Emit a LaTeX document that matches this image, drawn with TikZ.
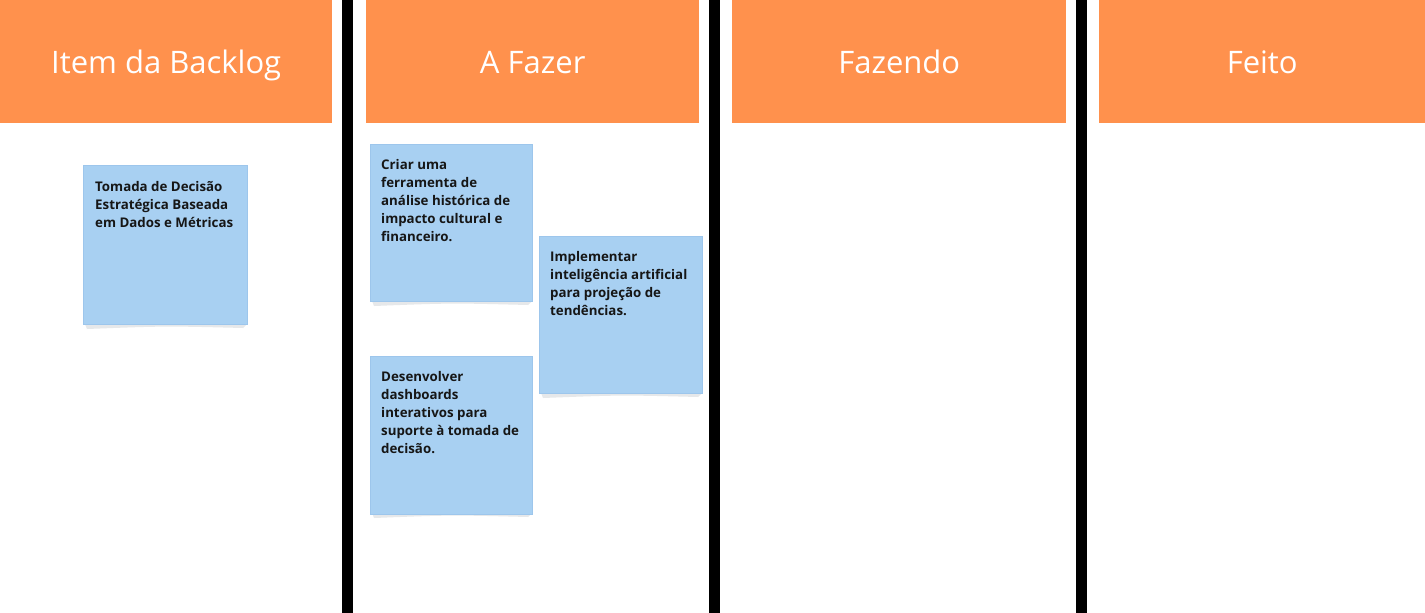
\documentclass[tikz,border=0pt]{standalone}
\usepackage{fontspec}
\setmainfont{Open Sans}
\definecolor{headorange}{HTML}{FF914D}
\definecolor{stickyblue}{HTML}{A8D0F2}
\definecolor{stickyedge}{HTML}{9DC6EC}
\definecolor{stickyshade}{HTML}{E6E8EA}
\definecolor{inktext}{HTML}{161616}
\begin{document}
\begin{tikzpicture}[x=1pt,y=-1pt,
  header/.style={fill=headorange, draw=none, anchor=north west, inner sep=0pt,
    minimum height=123pt},
  headtext/.style={text=white, font=\fontsize{31}{37}\selectfont, anchor=base, inner sep=0pt},
  divider/.style={fill=black, draw=none, anchor=north west, inner sep=0pt,
    minimum width=11pt, minimum height=613pt},
  sticky/.style={fill=stickyblue, draw=stickyedge, line width=0.6pt,
    anchor=north west, inner sep=0pt},
  % multi-line text: the base anchor sits on the last line
  stickytext/.style={anchor=base west, inner sep=0pt, align=left, text=inktext,
    font=\fontsize{13.3}{18}\selectfont\bfseries}
]
\useasboundingbox (0,0) rectangle (1425,613);
\fill[white] (0,0) rectangle (1425,613);

% column headers
\node[header, minimum width=332pt] (h1) at (0,0) {};
\node[header, minimum width=333pt] (h2) at (366,0) {};
\node[header, minimum width=334pt] (h3) at (732,0) {};
\node[header, minimum width=326pt] (h4) at (1099,0) {};
\node[headtext] (t1) at ([yshift=-73pt]h1.north) {Item da Backlog};
\node[headtext] (t2) at ([yshift=-73pt]h2.north) {A Fazer};
\node[headtext] (t3) at ([yshift=-73pt]h3.north) {Fazendo};
\node[headtext] (t4) at ([yshift=-73pt]h4.north) {Feito};

% column dividers
\node[divider] (d1) at (342,0) {};
\node[divider] (d2) at (709,0) {};
\node[divider] (d3) at (1076,0) {};

% sticky note shadows
\newcommand{\stickyshadow}[3]{% left, right, bottom
  \fill[stickyshade] (#1+2,#3) -- (#2,#3) -- (#2-4,#3+4)
    .. controls ({(#1+#2)/2},#3+2) .. (#1+4,#3+5) -- cycle;}
\stickyshadow{83}{247}{324}
\stickyshadow{370}{532}{301}
\stickyshadow{539}{702}{393}
\stickyshadow{370}{532}{513}

% sticky notes
\node[sticky, minimum width=164pt, minimum height=159pt] (n1) at (83,165) {};
\node[sticky, minimum width=162pt, minimum height=157pt] (n2) at (370,144) {};
\node[sticky, minimum width=163pt, minimum height=157pt] (n3) at (539,236) {};
\node[sticky, minimum width=162pt, minimum height=158pt] (n4) at (370,356) {};

\node[stickytext] (n1t) at ([shift={(12pt,-62pt)}]n1.north west)
  {Tomada de Decisão\\Estratégica Baseada\\em Dados e Métricas};
\node[stickytext] (n2t) at ([shift={(11pt,-97.5pt)}]n2.north west)
  {Criar uma\\ferramenta de\\análise histórica de\\impacto cultural e\\financeiro.};
\node[stickytext] (n3t) at ([shift={(11pt,-79.5pt)}]n3.north west)
  {Implementar\\inteligência artificial\\para projeção de\\tendências.};
\node[stickytext] (n4t) at ([shift={(11pt,-97.5pt)}]n4.north west)
  {Desenvolver\\dashboards\\interativos para\\suporte à tomada de\\decisão.};
\end{tikzpicture}
\end{document}
